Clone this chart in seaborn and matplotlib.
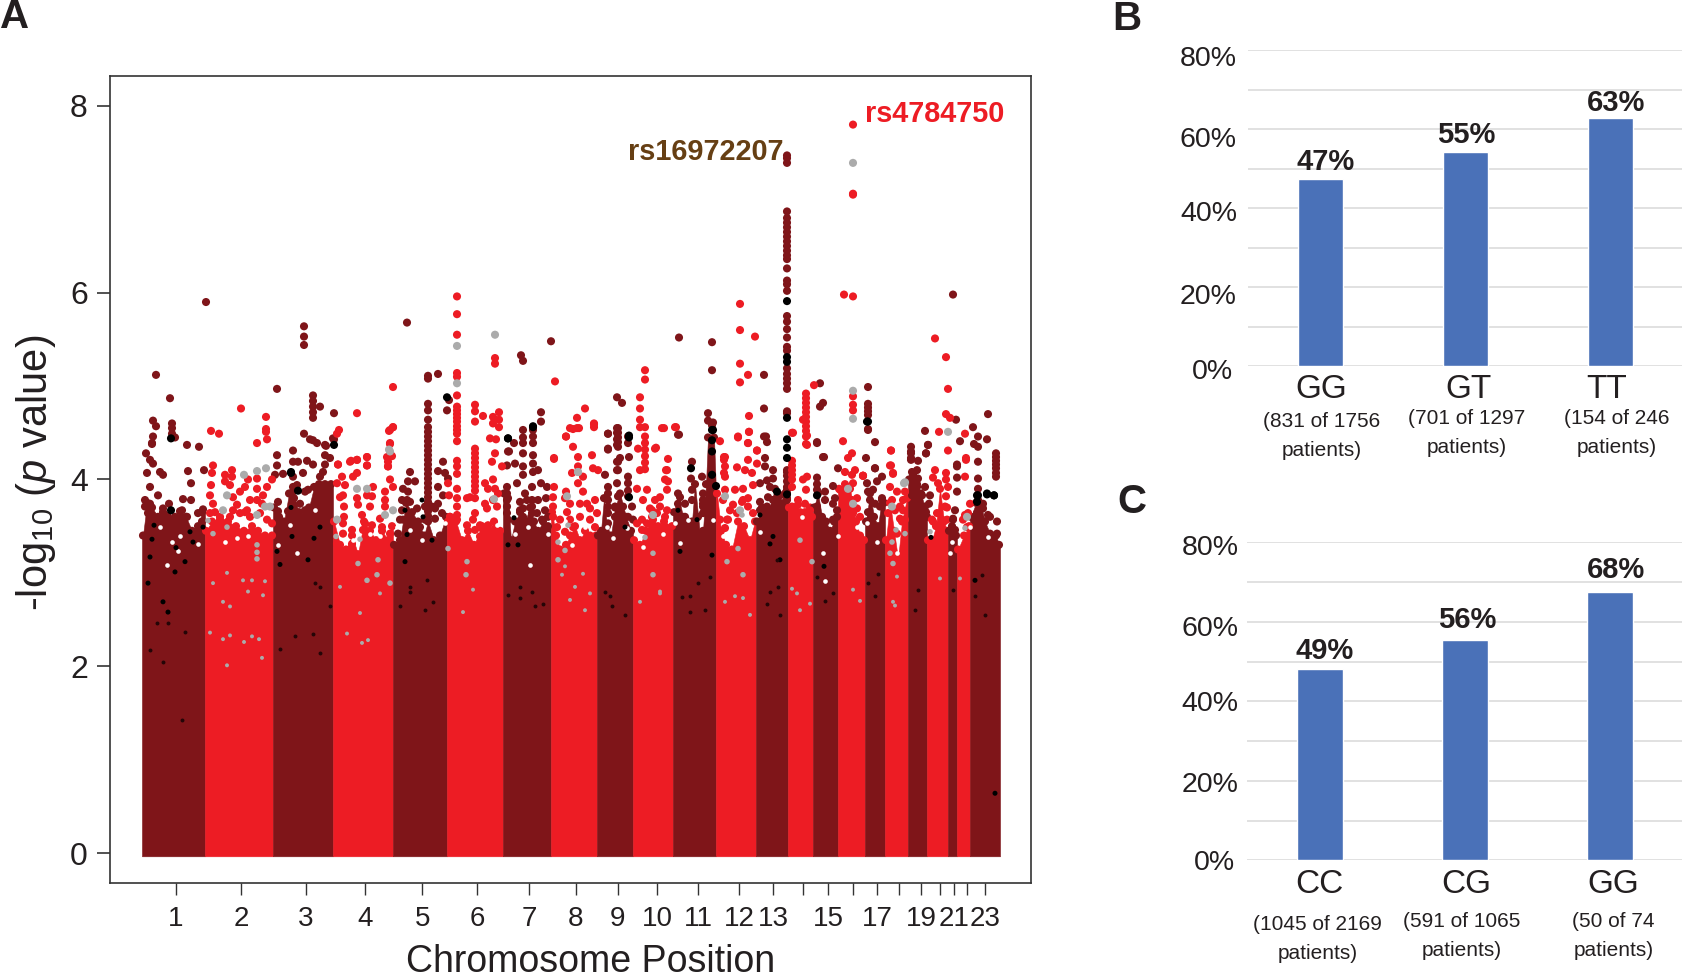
import numpy as np
import pandas as pd
import matplotlib
matplotlib.use("Agg")
import matplotlib.pyplot as plt
from matplotlib.transforms import ScaledTranslation
import seaborn as sns

# ---------------- data: panel A (genome position in plot units, -log10 p)
chrom_edges = [142,205,273,333,393,447,503,551,597,633,673,716,756,788,813,838,865,885,908,927,948,957,970,1000]
chrom_ticks = [176,241,306,365,422.5,477,529,576,618,657,698,739,773,803,828,853,877,899,921,940,954,967,985]
chrom_labels = ['1','2','3','4','5','6','7','8','9','10','11','12','13','','15','','17','','19','','21','','23']

body_tops = [
 [(143,3.40),(147,3.75),(152,3.70),(158,3.60),(165,3.62),(172,3.55),(180,3.66),(186,3.60),(192,3.45),(198,3.50),(203,3.68)],
 [(206,3.45),(212,3.55),(220,3.60),(228,3.55),(236,3.50),(244,3.45),(252,3.50),(258,3.45),(265,3.40),(272,3.40)],
 [(274,3.70),(279,3.60),(284,3.55),(289,3.85),(294,3.80),(299,3.65),(304,3.60),(309,3.70),(314,3.92),(319,3.95),(325,3.95),(331,3.95)],
 [(334,3.55),(340,3.30),(346,3.25),(352,3.40),(358,3.20),(364,3.55),(370,3.45),(376,3.35),(382,3.45),(388,3.35),(392,3.50)],
 [(394,3.30),(400,3.35),(406,3.75),(412,3.65),(418,3.55),(424,3.40),(428,3.55),(434,3.35),(440,3.40),(446,3.60)],
 [(448,3.55),(450,3.60),(456,3.55),(462,3.35),(468,3.45),(474,3.30),(482,3.50),(488,3.45),(494,3.55),(500,3.45)],
 [(504,3.85),(508,3.80),(511,3.35),(515,3.55),(520,3.65),(525,3.55),(530,3.70),(534,3.55),(538,3.45),(543,3.55),(548,3.50)],
 [(552,3.65),(556,3.40),(560,3.25),(566,3.30),(570,3.40),(575,3.50),(580,3.35),(585,3.45),(590,3.40),(596,3.40)],
 [(598,3.40),(601,3.45),(604,3.80),(607,3.50),(611,3.40),(615,3.70),(620,3.85),(626,3.60),(631,3.45)],
 [(634,3.35),(640,3.30),(646,3.45),(652,3.60),(658,3.50),(664,3.55),(672,3.50)],
 [(674,3.65),(678,3.85),(683,3.60),(688,3.55),(692,3.55),(695,3.95),(700,3.40),(703,3.45),(706,3.95),(708,4.45),(714,4.45),(716,3.85)],
 [(717,3.85),(721,3.45),(726,3.30),(732,3.25),(738,3.55),(744,3.50),(750,3.35),(755,3.55)],
 [(757,3.55),(762,3.70),(768,3.65),(775,3.90),(780,3.75),(785,3.85),(787,3.80)],
 [(789,3.70),(795,3.70),(800,3.65),(805,3.65),(810,3.70),(812,3.60)],
 [(814,3.70),(818,3.85),(822,3.60),(826,3.55),(830,3.45),(834,3.55),(837,3.60)],
 [(839,3.90),(845,3.95),(850,3.90),(856,3.55),(860,3.40),(864,3.35)],
 [(866,3.55),(870,3.85),(874,3.60),(878,3.50),(882,3.80),(884,3.75)],
 [(886,3.35),(890,3.75),(894,3.45),(898,3.15),(902,3.55),(907,3.80)],
 [(909,4.00),(913,4.05),(917,3.95),(921,3.85),(926,3.65)],
 [(928,3.35),(932,3.35),(936,3.50),(940,3.90),(944,3.55),(947,3.45)],
 [(949,3.45),(952,3.50),(956,3.40)],
 [(958,3.25),(964,3.40),(969,3.50)],
 [(971,3.60),(976,3.75),(981,3.72),(985,3.55),(990,3.42),(996,3.40),(999,3.30)],
]

cloud_gaps = [(160,3.49),(180,3.40),(172,3.33),(198,3.31),(178,3.23),(167,3.08),(225,3.33),(248,3.39),(237,3.37),(290,3.51),(278,3.30),(297,3.21),
 (445,3.53),(353,3.35),(380,3.39),(410,3.46),(422,3.35),(370,3.42),(315,3.67),(397,3.49),(497,3.51),(515,3.42),(528,3.49),(548,3.42),(530,3.08),
 (585,3.49),(572,3.30),(607,3.49),(613,3.37),(627,3.48),(643,3.28),(663,3.42),(565,3.55),(680,3.32),(675,3.53),(688,3.57),(723,3.39),(713,3.57),
 (760,3.44),(823,3.21),(825,2.91),(802,3.60),(838,3.40),(867,3.53),(877,3.33),(898,3.49),(897,3.21),(952,3.33),(970,3.49),(988,3.38),(857,3.49),(950,3.21)]

dark_cloud = [(145,3.71),(152,3.60),(163,3.65),(168,3.60),(182,3.67),(187,3.60),(198,3.64),(202,3.55),(175,3.60),
 (278,3.76),(278,3.66),(293,3.87),(293,3.74),(300,3.74),(305,3.60),(288,3.66),(308,3.89),
 (402,3.78),(402,3.67),(410,3.76),(417,3.69),(403,3.57),(425,3.71),(438,3.74),(442,3.64),(435,3.69),(443,3.83),
 (508,3.57),(523,3.60),(532,3.64),(537,3.64),(542,3.57),(527,3.78),(520,3.76),(548,3.60),(545,3.67),
 (608,3.53),(615,3.60),(623,3.71),(628,3.60),(633,3.57),(620,3.64),
 (680,3.81),(678,3.74),(685,3.74),(692,3.89),(692,3.78),(703,3.74),(698,3.60),(685,3.60),
 (760,3.67),(767,3.71),(773,3.78),(780,3.83),(787,3.78),(770,3.92),(778,3.69),
 (817,3.71),(820,3.60),(825,3.78),(833,3.74),(833,3.57),(837,3.67),
 (868,3.87),(875,3.74),(880,3.71),(882,3.78),(868,3.65),(870,3.57),
 (912,3.83),(917,3.92),(922,3.83),(925,3.71),(917,3.64),(927,3.60),(953,3.58),(955,3.46),
 (978,3.78),(983,3.69),(990,3.60),(977,3.64),(997,3.42),(992,3.40)]

red_cloud = [(210,3.64),(220,3.57),(230,3.60),(240,3.64),(250,3.60),(260,3.64),(267,3.57),(272,3.53),(247,3.67),
 (343,3.42),(352,3.31),(363,3.46),(372,3.51),(382,3.49),(390,3.42),(337,3.31),
 (450,3.60),(457,3.57),(467,3.51),(475,3.46),(483,3.46),(488,3.42),(480,3.39),
 (557,3.49),(565,3.44),(573,3.49),(580,3.60),(590,3.57),(595,3.49),(553,3.71),(570,3.57),
 (637,3.53),(647,3.53),(657,3.64),(665,3.60),(642,3.46),(650,3.69),(660,3.71),
 (720,3.57),(728,3.57),(737,3.64),(743,3.78),(748,3.71),(753,3.64),(725,3.48),(733,3.73),
 (792,3.71),(798,3.73),(805,3.74),(810,3.67),(795,3.57),
 (840,3.89),(845,3.82),(848,3.78),(852,3.78),(857,3.69),(860,3.60),
 (888,3.64),(895,3.67),(900,3.71),(905,3.57),(897,3.42),
 (932,3.57),(937,3.64),(945,3.71),(947,3.57),(963,3.57),(967,3.49),(968,3.64)]

dark_peaks = [
 (156,5.12),(170,4.87),(153,4.63),(156,4.57),(172,4.60),(172,4.55),(172,4.49),(175,4.45),(153,4.46),(152,4.38),(187,4.37),(199,4.35),(206,5.90),
 (146,4.28),(150,4.21),(153,4.17),(147,4.07),(160,4.08),(163,4.05),(150,3.92),(191,3.96),(188,4.09),(204,4.10),(158,3.83),(169,3.74),(183,3.79),(191,3.78),(145,3.78),(150,3.74),(163,3.69),(202,3.65),(148,3.64),(152,4.39),
 (304,5.64),(304,5.53),(304,5.44),(277,4.97),(313,4.90),(313,4.84),(313,4.78),(313,4.72),(313,4.66),(320,4.78),(334,4.71),(304,4.49),(310,4.43),(317,4.39),(326,4.36),(334,4.43),
 (277,4.26),(277,4.15),(275,4.05),(283,4.06),(293,4.31),(293,4.19),(293,4.03),(293,3.92),(298,4.19),(307,4.20),(303,4.07),(297,3.94),(305,3.87),(305,3.67),(313,4.16),(325,4.26),(325,4.16),(323,4.08),(320,4.03),(330,4.23),(313,4.42),(325,4.37),(333,4.44),
 (407,5.68),(428,5.11),(428,5.08),(438,5.13),(449,4.85),(447,4.74),(428,4.81),(428,4.74),(428,4.64),
 (428,4.56),(428,4.51),(428,4.46),(428,4.41),(428,4.36),(428,4.31),(428,4.26),(428,4.21),(428,4.16),(428,4.11),(428,4.06),(428,4.01),(428,3.96),(428,3.91),(428,3.86),(428,3.81),(428,3.76),(428,3.71),(428,3.66),(428,3.61),
 (410,4.08),(415,3.98),(408,3.98),(403,3.90),(408,3.87),(407,3.78),(400,3.57),(398,3.42),(438,4.09),(443,4.19),(445,4.07),(448,4.01),(438,3.92),(435,3.58),(432,3.71),(425,3.57),(420,3.49),
 (521,5.33),(523,5.27),(551,5.48),(541,4.72),(541,4.62),(533,4.53),(533,4.46),(533,4.39),(523,4.53),(523,4.45),(523,4.39),(514,4.39),(509,4.30),
 (508,4.30),(507,4.15),(515,4.17),(523,4.28),(523,4.14),(523,4.05),(533,4.26),(533,4.17),(533,4.08),(538,4.10),(541,3.96),(547,3.92),(517,3.96),(525,3.85),(532,3.92),(532,3.78),(538,3.78),(546,3.80),(523,3.69),(520,3.67),(507,3.92),(507,3.85),(507,3.78),(507,3.71),(507,3.64),(532,3.71),
 (608,4.49),(608,4.32),(605,4.05),(617,4.55),(617,4.50),(617,4.43),(617,4.37),(618,4.19),(618,4.10),(628,4.46),(628,4.39),(620,4.23),(608,3.92),(608,3.85),(608,3.78),(608,3.71),(608,3.64),(628,4.03),(628,3.96),(628,3.88),(628,3.82),(617,3.96),(618,3.82),(615,3.71),(632,3.71),
 (618,4.55),(618,4.50),(618,4.45),(618,4.40),(618,4.35),(608,4.49),(608,4.33),(629,4.24),(617,4.19),(617,4.10),(617,4.88),(622,4.82),
 (679,5.52),(712,5.47),(712,5.17),(679,4.48),(708,4.71),(708,4.63),(713,4.61),(692,4.19),(691,4.01),(678,4.48),(712,4.58),(703,3.85),(703,3.78),(703,3.71),(703,3.64),(702,4.03),
 (764,5.12),(764,4.76),(764,4.46),(767,4.40),(765,4.23),(766,4.46),(765,4.14),(773,4.10),(773,4.01),(767,3.99),(760,3.96),(768,3.81),(760,3.76),(787,4.08),(788,4.00),(787,3.89),
 (787,7.47),(787,7.44),(787,7.39),(787,6.87),(787,6.80),(787,6.75),(787,6.70),(787,6.65),(787,6.60),(787,6.55),(787,6.50),(787,6.45),(787,6.40),(787,6.36),(787,6.26),(787,6.13),(787,6.09),(787,6.02),(787,5.75),(787,5.69),(787,5.61),(787,5.52),(787,5.42),(787,5.38),(787,5.19),(787,5.13),(787,5.08),(787,5.03),(787,4.97),(787,4.73),(787,4.71),(787,4.10),(787,4.04),(787,3.98),(787,3.92),(787,3.85),
 (820,5.03),(823,4.82),(820,4.78),(817,4.39),(824,4.24),(838,4.12),(817,4.40),(823,4.24),(817,4.02),(817,3.95),(817,3.89),(825,3.87),(833,3.93),(835,3.80),
 (868,4.99),(868,4.81),(868,4.77),(868,4.73),(868,4.69),(868,4.54),(875,4.40),(866,4.23),(875,4.12),(868,4.53),(875,4.12),(867,3.96),(873,3.89),(877,3.98),(882,4.03),(870,3.78),
 (953,5.98),(956,4.64),(925,4.52),(928,4.37),(926,4.28),(911,4.35),(911,4.28),(911,4.21),(911,4.30),(911,4.23),(918,4.20),(926,4.28),(928,4.37),(912,4.08),(917,4.10),(918,4.01),(925,3.92),(930,3.83),(929,3.74),
 (973,4.56),(988,4.70),(978,4.46),(974,4.38),(978,4.35),(987,4.43),(960,4.41),(957,4.14),(957,4.02),(978,4.19),(957,4.16),(957,3.87),(955,3.67),(953,3.57),
 (996,4.28),(996,4.24),(996,4.20),(996,4.16),(996,4.12),(996,4.07),(996,4.03),(978,4.01),(978,3.90),(997,3.55),(988,3.62),(983,3.74),
]

red_peaks = [
 (457,5.96),(457,5.77),(457,5.55),(457,5.14),(457,5.10),(457,4.90),(457,4.78),(457,4.74),(457,4.70),(457,4.66),(457,4.62),(457,4.57),(457,4.53),(457,4.49),(457,4.41),(457,4.20),(457,4.14),(457,4.06),(457,3.90),(457,3.80),(457,3.71),(457,3.62),
 (495,5.30),(495,5.24),(555,5.05),(393,4.99),(357,4.71),(339,4.53),(337,4.49),(393,4.56),(389,4.52),(390,4.38),(392,4.25),(387,4.24),(388,4.14),
 (241,4.76),(266,4.67),(266,4.54),(266,4.51),(267,4.43),(257,4.39),(211,4.52),(219,4.49),
 (475,4.80),(475,4.73),(475,4.62),(483,4.68),(499,4.72),(499,4.64),(499,4.56),(493,4.67),(493,4.60),(490,4.44),(496,4.43),
 (475,4.33),(475,4.28),(475,4.23),(475,4.18),(475,4.13),(475,4.08),(475,4.03),(475,3.98),(475,3.93),(475,3.88),(475,3.80),(475,3.64),
 (554,4.22),(367,4.24),(357,4.21),(350,4.19),(367,4.15),(338,4.16),
 (213,4.15),(212,4.07),(211,3.94),(210,3.83),(213,3.74),(225,4.05),(225,3.98),(232,4.10),(232,4.03),(230,3.94),(240,3.87),(233,3.81),(248,4.00),(245,3.92),(257,4.01),(257,3.90),(257,3.78),(267,3.92),(272,4.00),(237,3.73),(250,3.78),(245,3.65),(233,3.67),(262,3.74),(263,3.83),(215,3.65),
 (338,4.16),(351,4.20),(357,4.21),(367,4.24),(367,4.15),(357,4.07),(353,4.03),(342,4.03),(337,3.96),(345,3.94),(343,3.83),(340,3.81),(344,3.71),(344,3.60),(343,3.53),(357,3.80),(358,3.73),(367,3.83),(373,3.92),(372,3.82),(370,3.71),(385,3.87),(385,3.78),(385,3.71),(390,4.00),(393,3.92),(362,3.62),(365,3.53),(380,3.58),(352,3.46),(388,4.19),(388,4.14),(391,4.26),(390,4.39),(390,4.53),(393,4.56),
 (448,3.96),(449,3.83),(467,3.80),(470,3.81),(485,3.96),(488,3.90),(485,3.74),(487,3.69),(480,3.51),(488,3.51),(473,3.57),(495,4.28),(492,4.19),(502,4.14),(493,4.00),(495,3.90),(498,3.85),(497,3.71),(493,3.78),
 (554,4.23),(554,3.92),(553,3.81),(553,3.60),(566,4.46),(573,4.35),(578,4.24),(578,4.14),(572,4.07),(583,4.03),(592,4.26),(593,4.12),(598,4.10),(566,3.87),(565,3.80),(570,3.74),(567,3.65),(578,3.96),(583,3.87),(587,3.74),(580,3.74),(595,3.78),(590,3.69),(597,3.64),(560,3.57),(570,4.55),(577,4.55),(594,4.59),
 (566,4.46),(585,4.76),(577,4.66),(594,4.60),(594,4.56),(573,4.54),(579,4.55),
 (640,4.56),(645,5.17),(645,5.07),(640,4.88),(640,4.76),(640,4.64),(645,4.56),(645,4.46),(645,4.39),(645,4.32),(645,4.25),(645,4.18),(645,4.11),(640,4.10),(638,4.33),(655,4.33),(662,4.55),(666,4.10),(665,4.00),(655,3.78),(647,3.89),(637,3.90),(660,3.81),(652,3.67),(642,3.57),(653,3.57),(643,3.78),(667,3.89),(667,3.67),
 (664,4.55),(676,4.56),(656,4.34),(668,4.22),(667,4.10),(668,3.98),(720,4.41),(724,4.24),(724,4.21),(724,4.07),(675,4.56),
 (853,7.80),(853,7.06),(853,7.05),(844,5.98),(853,5.96),(740,5.88),(740,5.60),(755,5.53),(740,5.24),(748,5.12),(740,5.04),
 (749,4.68),(749,4.51),(738,4.45),(748,4.39),(757,4.31),(725,4.24),(725,4.14),(725,4.03),(738,4.46),(749,4.51),(748,4.39),(757,4.31),(748,4.21),(737,4.13),(745,4.10),(752,4.07),(753,3.94),(725,3.89),(735,3.89),(743,3.90),(723,3.78),(748,3.80),(742,3.76),(730,3.67),(727,3.57),(757,4.17),
 (814,5.01),(806,4.92),(806,4.87),(806,4.82),(806,4.77),(806,4.72),(806,4.67),(806,4.62),(806,4.57),(806,4.52),(806,4.46),(803,4.64),(807,4.47),(807,4.37),(792,4.50),(793,4.50),(792,4.20),(792,4.15),(792,4.10),(792,4.05),(792,4.00),(792,3.92),(806,4.38),(803,4.00),(807,4.03),(806,3.89),(798,3.78),
 (853,4.89),(853,4.80),(853,4.74),(843,4.41),(852,4.28),(848,4.23),(845,4.08),(852,4.05),(855,4.10),(863,4.04),(853,3.96),(857,3.80),(853,3.64),(863,4.04),
 (891,4.31),(890,4.15),(893,4.06),(890,3.92),(897,3.87),(905,3.87),(903,3.78),(892,3.78),(903,3.67),(900,3.58),(891,4.31),(891,4.15),(893,4.07),
 (935,5.51),(946,5.31),(948,4.97),(946,4.70),(950,4.66),(939,4.51),(965,4.49),(948,4.31),(935,4.10),(933,4.02),(946,4.07),(946,4.00),(948,3.92),(946,3.82),(938,3.96),(947,3.70),(933,3.55),(942,3.57),
 (966,4.23),(965,4.03),(970,3.74),(965,3.62),(966,4.21),(863,4.04),
]

gray_peaks = [
 (457,5.43),(457,5.03),(495,5.55),(390,4.30),(244,4.05),(257,4.09),(266,4.12),(853,7.39),(853,4.95),(853,4.65),(948,4.51),(904,3.96),(578,4.08),
 (257,3.62),(227,3.83),(265,3.71),(270,3.71),(223,3.67),
 (357,3.90),(367,3.90),(393,3.67),(385,3.62),(337,3.57),(389,4.32),
 (494,3.79),(578,4.08),(567,3.82),(653,3.62),(740,3.67),(725,3.82),(853,3.74),(848,3.90),(905,3.97),(892,3.71),(967,3.60),
]
gray_buried = [(257,3.30),(257,3.22),(257,3.15),(213,3.42),(208,3.56),(227,3.49),(336,3.39),(360,3.36),(378,3.14),(358,3.10),(377,2.98),(390,2.89),(367,2.92),
 (467,3.12),(466,2.98),(448,3.26),(558,3.33),(565,3.24),(568,3.51),(558,3.14),(645,3.38),(653,3.21),(653,2.98),(742,3.62),(727,3.12),(738,3.26),(743,2.98),
 (800,3.35),(812,3.12),(896,3.46),(892,3.33),(890,3.21),(893,3.10),(905,3.42),(930,3.44),(965,3.48)]

black_peaks = [
 (171,4.44),(447,4.88),(334,4.37),(508,4.44),(533,4.57),(291,4.07),(629,4.45),(691,4.12),(713,4.53),(978,3.83),(987,3.85),(994,3.83),
 (787,5.91),(787,5.31),(787,5.26),(787,4.66),(787,4.43),(787,4.34),(787,4.23),(787,3.84),(868,4.62),(867,4.62),
 (171,3.67),(291,4.08),(298,3.88),(508,4.44),(533,4.56),(629,4.47),(629,3.81),(712,4.53),(712,4.42),(712,4.30),(712,4.05),(716,3.93),(777,3.87),(817,3.83),(977,3.83),(987,3.84),(994,3.83),(977,3.76),
]
black_buried = [(154,3.51),(152,3.36),(193,3.33),(190,3.44),(176,3.27),(203,3.49),(150,3.17),(185,3.12),(175,3.01),(163,2.69),(148,2.89),(168,2.58),
 (291,3.70),(292,3.39),(277,3.23),(280,3.09),(308,3.14),(320,3.49),(314,3.37),(407,3.41),(432,3.35),(422,3.78),(405,3.67),(423,3.60),(405,3.12),(514,3.59),(518,3.30),(508,3.30),
 (625,3.49),(712,3.19),(697,3.57),(678,3.67),(680,3.23),(773,3.39),(760,3.62),(770,3.31),(780,3.14),(824,3.07),(931,3.38),(975,2.92),(995,0.64)]

gray_specks = [(227,3.00),(243,2.92),(252,2.92),(265,2.91),(263,2.76),(223,2.69),(213,2.89),(230,2.64),(248,2.80),(223,2.29),(244,2.26),(252,2.32),(259,2.29),(210,2.36),(230,2.33),(362,2.25),(368,2.28),(347,2.35),(227,2.01),(262,2.09),(575,2.85),(585,2.60),(660,2.80),(735,2.75),(750,2.55),(800,2.60),(860,2.70),(895,2.65),
 (565,3.07),(562,2.98),(583,2.99),(590,2.78),(570,2.71),(640,2.69),(660,2.78),(725,2.69),(743,2.73),(797,2.78),(810,2.67),(792,2.83),(893,2.69),(897,2.96),(940,2.94),(960,2.94),(853,2.82),(360,2.57),(380,2.78),(340,2.85),(463,2.58),(473,2.82)]
black_specks = [(150,2.17),(185,2.37),(163,2.05),(182,1.42),(280,2.19),(320,2.14),(295,2.32),(313,2.35),(157,2.46),(168,2.46),(410,2.80),(425,2.60),(520,2.85),(535,2.65),(610,2.75),(625,2.55),(690,2.75),(705,2.60),(770,2.80),(780,2.55),(825,2.70),(875,2.75),(915,2.60),(975,2.75),(985,2.55),
 (427,2.92),(410,2.85),(433,2.69),(400,2.64),(320,2.85),(315,2.89),(330,2.65),(508,2.76),(532,2.80),(543,2.67),(605,2.80),(612,2.64),(520,2.73),(698,2.89),(682,2.74),(690,2.58),(710,2.96),(777,3.14),(767,2.67),(778,2.85),(817,2.96),(833,2.78),(868,2.89),(878,2.99),(918,2.82),(953,2.82),(982,2.98)]

rs_labels = [("rs4784750",865,7.91,"#ed1c24"),("rs16972207",628,7.51,"#663f14")]

# ---------------- data: panels B and C
b_genotypes = ["GG","GT","TT"]
b_percent = [47.3,54.2,62.8]
b_value_text = ["47%","55%","63%"]
b_counts = ["(831 of 1756\npatients)","(701 of 1297\npatients)","(154 of 246\npatients)"]
c_genotypes = ["CC","CG","GG"]
c_percent = [48.1,55.4,67.5]
c_value_text = ["49%","56%","68%"]
c_counts = ["(1045 of 2169\npatients)","(591 of 1065\npatients)","(50 of 74\npatients)"]

# ---------------- style
DARK, RED, GRAY, BLACK = "#7f1519", "#ed1c24", "#ababab", "#000000"
BLUE = "#4a71b8"
INK = "#231f20"
sns.set_theme(style="white", font="Liberation Sans")
plt.rcParams.update({
    "font.family": ["Liberation Sans", "DejaVu Sans"],
    "mathtext.fontset": "custom",
    "mathtext.rm": "Liberation Sans",
    "mathtext.it": "Liberation Sans:italic",
    "text.color": INK,
})

W, H = 1683, 980
fig = plt.figure(figsize=(W/100, H/100), dpi=100, facecolor="white")
def rect(l, t, r, b):
    return [l/W, 1-b/H, (r-l)/W, (b-t)/H]
PX = 0.72  # points per pixel

# ---------------- panel A
ax = fig.add_axes(rect(110, 76.5, 1031, 883))
ax.set_xlim(110, 1031)
ax.set_ylim(-0.321, 8.315)
PALETTE = {"dark": DARK, "red": RED, "gray": GRAY, "black": BLACK}

def points(pairs, group):
    return pd.DataFrame([(x, y, group) for x, y in pairs], columns=["position", "log10p", "group"])

def draw(frame, size, z):
    sns.scatterplot(data=frame, x="position", y="log10p", hue="group", palette=PALETTE,
                    s=size, linewidth=0, legend=False, ax=ax, zorder=z)

body_frames = []
for i, tops in enumerate(body_tops):
    group = "dark" if i % 2 == 0 else "red"
    colour = PALETTE[group]
    xs = [chrom_edges[i]] + [p[0] for p in tops] + [chrom_edges[i+1]]
    ys = [tops[0][1]] + [p[1] for p in tops] + [tops[-1][1]]
    ax.fill_between(xs, -0.035, ys, color=colour, edgecolor=colour, lw=0.4, zorder=1)
    body_frames.append(points(tops, group))
draw(pd.concat(body_frames, ignore_index=True), 34, 1.2)
draw(points(dark_cloud, "dark"), 34, 1.3)
draw(points(red_cloud, "red"), 34, 1.3)

sns.scatterplot(x=[p[0] for p in cloud_gaps], y=[p[1] for p in cloud_gaps], color="white",
                s=11, linewidth=0, legend=False, ax=ax, zorder=1.5)

draw(pd.concat([points(dark_peaks, "dark"), points(red_peaks, "red"), points(gray_peaks, "gray"),
                points(black_peaks, "black")], ignore_index=True), 34, 2)
draw(points(black_buried, "black"), 13, 2.1)
draw(points(gray_buried, "gray"), 16, 2.1)
draw(points(gray_specks, "gray"), 8, 2.1)
sns.scatterplot(x=[p[0] for p in black_specks], y=[p[1] for p in black_specks], color="#240507",
                s=8, linewidth=0, legend=False, ax=ax, zorder=2.1)

for name, x, y, colour in rs_labels:
    ax.text(x, y, name, color=colour, fontsize=20.8, fontweight="bold", va="center", ha="left")

ax.set_xticks(chrom_ticks)
ax.set_xticklabels(chrom_labels, fontsize=20)
ax.set_yticks([0, 2, 4, 6, 8])
ax.set_yticklabels(["0", "2", "4", "6", "8"], fontsize=23)
ax.tick_params(axis="x", length=8.6, width=1, color="#333333", pad=8, labelcolor=INK, bottom=True)
ax.tick_params(axis="y", length=9.5, width=1.2, color="#333333", pad=6.5, labelcolor=INK, left=True)
for s in ax.spines.values():
    s.set_visible(True)
    s.set_color("#333333")
    s.set_linewidth(1.2)
ax.set_xlabel("")
ax.set_ylabel("")
fig.text(591/W, 1-979.5/H, "Chromosome Position", fontsize=27, ha="center", va="bottom", color=INK)
fig.text(36/W, 1-473/H, r"-log$_{\mathrm{10}}$ ($\mathit{p}$ value)", fontsize=30, rotation=90,
         ha="center", va="center", color=INK)

# ---------------- panels B and C
def bar_panel(box, cats, vals, vtext, counts, tick_dy, tick_right_pad,
              cat_dx, cat_y, value_xy_dx, value_dy, count_dx, count_dy):
    a = fig.add_axes(rect(*box))
    frame = pd.DataFrame({"genotype": cats, "percent": vals})
    sns.barplot(data=frame, x="genotype", y="percent", color=BLUE, saturation=1, width=0.317, ax=a, zorder=3)
    a.set_xlim(-0.5, 2.5)
    a.set_ylim(0, 80)
    a.set_yticks(range(0, 81, 10))
    a.set_yticklabels([f"{v}%" if v % 20 == 0 else "" for v in range(0, 81, 10)], fontsize=20.5)
    a.grid(axis="y", color="#dcdcdc", lw=1.2, zorder=0)
    a.set_axisbelow(True)
    a.set_xlabel(""); a.set_ylabel("")
    sns.despine(ax=a, left=True, bottom=True, right=True, top=True)
    a.tick_params(axis="both", length=0)
    a.tick_params(axis="y", pad=tick_right_pad)
    a.patch.set_alpha(0)
    labs = [l for l in a.get_yticklabels() if l.get_text()]
    for lab, dy in zip(labs, tick_dy):
        lab.set_transform(lab.get_transform() + ScaledTranslation(dy[0]/100, -dy[1]/100, fig.dpi_scale_trans))
        lab.set_color(INK)
    a.set_xticks([0, 1, 2])
    a.set_xticklabels(["", "", ""])
    for i in range(3):
        a.annotate(cats[i], xy=(i, 0), xycoords=("data", "axes fraction"),
                   xytext=(cat_dx[i]*PX, -cat_y*PX), textcoords="offset points",
                   ha="center", va="center", fontsize=24, color=INK)
        a.annotate(vtext[i], xy=(i, vals[i]), xycoords="data",
                   xytext=(value_xy_dx[i]*PX, value_dy[i]*PX), textcoords="offset points",
                   ha="center", va="center", fontsize=21, fontweight="bold", color=INK)
        a.annotate(counts[i], xy=(i, 0), xycoords=("data", "axes fraction"),
                   xytext=(count_dx[i]*PX, -count_dy[i]*PX), textcoords="offset points",
                   ha="center", va="center", fontsize=15, linespacing=1.68, color=INK)
    return a

bar_panel((1248, 50, 1683, 366), b_genotypes, b_percent, b_value_text, b_counts,
          tick_dy=[(-4, 3), (0, 7), (0, 3), (0, 8), (0, 6)], tick_right_pad=8,
          cat_dx=[1, 3, -4], cat_y=23, value_xy_dx=[5, 1, 6], value_dy=[17, 17, 15],
          count_dx=[1, 1, 6], count_dy=[70, 67, 67])
bar_panel((1247, 542.3, 1683, 860.3), c_genotypes, c_percent, c_value_text, c_counts,
          tick_dy=[(-4, 0), (0, 1), (0, 0), (0, 4), (0, 3)], tick_right_pad=6,
          cat_dx=[0, 1, 3], cat_y=24, value_xy_dx=[5, 2, 6], value_dy=[18, 20, 22],
          count_dx=[-2, -3, 3], count_dy=[79, 76, 76])

# ---------------- panel letters
for letter, x, y in [("A", 15, 17), ("B", 1127, 19), ("C", 1132, 502)]:
    fig.text(x/W, 1-y/H, letter, fontsize=29, fontweight="bold", ha="center", va="center", color=INK)

fig.savefig("out.png", dpi=100, facecolor="white")
